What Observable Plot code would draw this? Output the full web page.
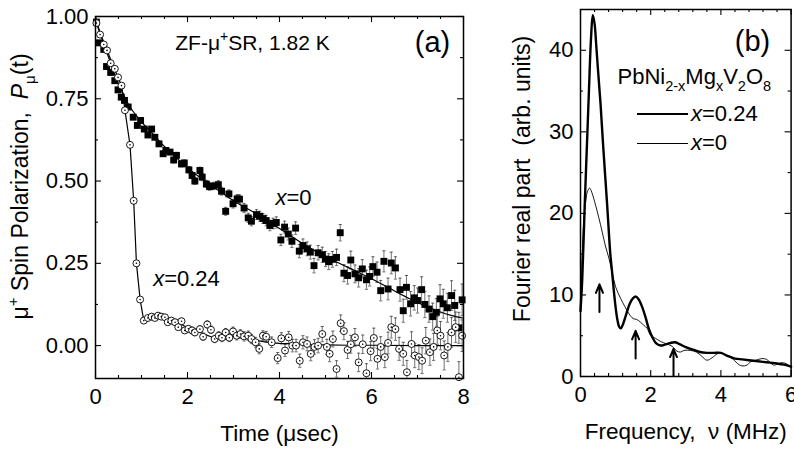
<!DOCTYPE html>
<html><head><meta charset="utf-8">
<script src="https://cdn.jsdelivr.net/npm/d3@7"></script>
<script src="https://cdn.jsdelivr.net/npm/@observablehq/plot@0.6"></script>
<style>
body{margin:0;background:#fff;}
#wrap{position:relative;width:794px;height:449px;display:flex;overflow:hidden;font-family:"Liberation Sans",Arial,sans-serif;}
#wrap svg{display:block;}
.lrow{position:absolute;left:637px;height:28px;display:flex;align-items:center;font-size:22px;color:#000;}
.sw{display:inline-block;width:51px;margin-right:3px;}
</style></head><body><div id="wrap"></div>
<script>
// ---------- Panel (a): ZF-muSR polarization ----------
const x0Time = [0.02,0.08,0.18,0.24,0.33,0.42,0.49,0.56,0.63,0.71,0.82,0.91,0.98,
 1.06,1.14,1.22,1.29,1.38,1.47,1.53,1.62,1.70,1.76,1.87,1.93,
 2.03,2.10,2.16,2.27,2.32,2.41,2.48,2.56,2.67,2.74,2.83,2.90,2.99,
 3.08,3.13,3.23,3.32,3.39,3.50,3.57,3.64,3.71,3.79,3.86,3.93,
 4.03,4.11,4.19,4.27,4.35,4.43,4.51,4.60,4.67,4.75,4.84,4.93,
 5.00,5.07,5.15,5.24,5.32,5.40,5.48,5.55,5.64,5.72,5.80,5.89,5.96,
 6.03,6.12,6.20,6.27,6.36,6.43,6.52,6.62,6.69,6.76,6.85,6.93,
 7.00,7.09,7.16,7.25,7.33,7.41,7.49,7.56,7.65,7.74,7.81,7.90,7.97];
const x0Pol = [0.983,0.92,0.90,0.848,0.83,0.805,0.777,0.755,0.745,0.725,0.694,0.669,0.684,
 0.658,0.64,0.658,0.633,0.613,0.583,0.593,0.588,0.564,0.578,0.552,0.555,
 0.534,0.517,0.50,0.532,0.512,0.491,0.483,0.485,0.489,0.469,0.408,0.461,0.431,
 0.446,0.445,0.418,0.388,0.378,0.398,0.393,0.386,0.38,0.365,0.371,0.374,
 0.321,0.36,0.339,0.317,0.357,0.287,0.304,0.294,0.284,0.243,0.282,0.276,
 0.263,0.255,0.262,0.268,0.343,0.22,0.213,0.26,0.218,0.206,0.233,0.20,0.21,
 0.24,0.223,0.167,0.256,0.172,0.251,0.236,0.17,0.106,0.177,0.127,0.145,
 0.137,0.17,0.125,0.111,0.088,0.101,0.142,0.127,0.115,0.152,0.122,0.054,0.139];
const x0Err = [0.004,0.004,0.004,0.004,0.005,0.005,0.005,0.005,0.005,0.006,0.006,0.006,0.006,
 0.007,0.007,0.007,0.007,0.008,0.008,0.008,0.008,0.009,0.009,0.009,0.009,
 0.010,0.010,0.010,0.010,0.011,0.011,0.011,0.011,0.012,0.012,0.012,0.012,0.013,
 0.013,0.013,0.014,0.014,0.014,0.015,0.015,0.015,0.016,0.016,0.016,0.017,
 0.017,0.018,0.018,0.019,0.019,0.020,0.020,0.021,0.021,0.022,0.022,0.023,
 0.023,0.024,0.024,0.025,0.025,0.026,0.026,0.027,0.027,0.028,0.028,0.029,0.029,
 0.030,0.031,0.031,0.032,0.033,0.033,0.034,0.035,0.035,0.036,0.037,0.037,
 0.038,0.039,0.040,0.040,0.041,0.042,0.043,0.044,0.044,0.045,0.046,0.047,0.048];

const x24Time = [0.02,0.10,0.18,0.25,0.33,0.42,0.49,0.565,0.64,0.75,0.83,0.89,0.97,1.05,
 1.14,1.22,1.29,1.36,1.43,1.51,1.57,1.65,1.73,1.80,1.87,1.94,
 2.02,2.10,2.16,2.27,2.34,2.43,2.51,2.59,2.68,2.75,2.83,2.91,2.99,
 3.07,3.15,3.23,3.32,3.39,3.48,3.56,3.64,3.71,3.83,3.96,
 4.04,4.12,4.20,4.28,4.36,4.44,4.51,4.60,4.68,4.76,4.84,4.93,
 5.03,5.09,5.16,5.24,5.33,5.40,5.48,5.55,5.64,5.72,5.81,5.89,5.98,
 6.05,6.13,6.20,6.29,6.36,6.43,6.52,6.60,6.69,6.77,6.87,6.94,
 7.03,7.10,7.18,7.27,7.35,7.43,7.50,7.58,7.66,7.74,7.83,7.90,7.97];
const x24Pol = [0.98,0.945,0.915,0.897,0.858,0.841,0.815,0.79,0.715,0.61,0.44,0.25,0.14,0.076,
 0.084,0.088,0.084,0.091,0.088,0.086,0.071,0.076,0.071,0.056,0.074,0.046,
 0.051,0.046,0.04,0.05,0.027,0.064,0.048,0.02,0.03,0.024,0.04,0.024,0.043,
 0.03,0.035,0.028,0.03,0.02,0.01,-0.01,0.03,0.027,0.01,-0.038,
 0.022,-0.015,0.025,0.0,0.0,-0.046,0.01,0.005,-0.025,-0.004,0.0,0.035,
 -0.004,-0.025,0.02,-0.071,0.068,0.044,-0.013,0.004,0.025,-0.051,0.004,-0.084,-0.017,
 0.023,-0.04,-0.004,-0.035,0.008,0.056,0.05,-0.01,-0.025,-0.081,0.005,-0.03,
 -0.035,-0.046,0.015,-0.02,-0.004,0.046,0.03,-0.03,-0.004,0.04,0.056,-0.096,0.03];
const x24Err = [0.004,0.004,0.004,0.004,0.005,0.005,0.005,0.005,0.005,0.006,0.006,0.006,0.006,0.006,
 0.007,0.007,0.007,0.007,0.008,0.008,0.008,0.008,0.009,0.009,0.009,0.009,
 0.010,0.010,0.010,0.010,0.011,0.011,0.011,0.011,0.012,0.012,0.012,0.012,0.013,
 0.013,0.013,0.014,0.014,0.014,0.015,0.015,0.015,0.016,0.016,0.017,
 0.017,0.018,0.018,0.019,0.019,0.020,0.020,0.021,0.021,0.022,0.022,0.023,
 0.023,0.024,0.024,0.025,0.025,0.026,0.026,0.027,0.027,0.028,0.028,0.029,0.029,
 0.030,0.031,0.031,0.032,0.033,0.033,0.034,0.035,0.035,0.036,0.037,0.037,
 0.038,0.039,0.040,0.040,0.041,0.042,0.043,0.044,0.044,0.045,0.046,0.047,0.048];

const fit0Time = [0,0.1,0.2,0.3,0.4,0.5,0.6,0.75,1,1.25,1.5,1.75,2,2.25,2.5,2.75,3,3.25,3.5,3.75,4,4.25,4.5,4.75,5,5.25,5.5,5.75,6,6.25,6.5,6.75,7,7.25,7.5,7.75,8];
const fit0Pol = [1.0,0.95,0.91,0.87,0.83,0.795,0.765,0.725,0.68,0.643,0.605,0.572,0.54,0.513,0.488,0.464,0.44,0.42,0.4,0.378,0.356,0.333,0.31,0.29,0.27,0.253,0.237,0.22,0.203,0.185,0.166,0.148,0.131,0.116,0.102,0.091,0.083];
const fit24Time = [0,0.1,0.2,0.3,0.4,0.5,0.57,0.64,0.75,0.83,0.89,0.97,1.05,1.12,1.2,1.3,1.4,1.5,1.6,1.75,1.9,2.0,2.2,2.4,2.6,2.75,2.9,3.05,3.2,3.35,3.5,3.65,3.8,4.0,4.3,4.6,5,5.5,6,7,8];
const fit24Pol = [0.985,0.95,0.915,0.88,0.845,0.81,0.79,0.715,0.61,0.44,0.25,0.14,0.076,0.082,0.088,0.095,0.094,0.088,0.081,0.072,0.062,0.055,0.045,0.033,0.022,0.018,0.022,0.026,0.026,0.022,0.016,0.012,0.009,0.007,0.005,0.003,0.002,0.001,0.001,0.0,0.0];

const xTicksA = [0,2,4,6,8];
const yTicksA = [0,0.25,0.5,0.75,1.0];

// ---------- Panel (b): Fourier transform ----------
const thickNu = [0,0.05,0.12,0.18,0.24,0.3,0.35,0.4,0.45,0.5,0.57,0.65,0.76,0.85,0.9,0.95,1.0,1.05,1.1,1.15,1.2,1.3,1.4,1.5,1.58,1.65,1.75,1.85,1.95,2.05,2.15,2.28,2.4,2.55,2.7,2.85,3.0,3.2,3.4,3.6,3.8,4.0,4.2,4.4,4.6,4.8,5.0,5.2,5.4,5.6,5.8,6.0];
const thickAmp = [8,12,21,28,35,41.5,44.3,43.3,40.5,37.5,33.5,28,21,15,12.8,10.5,8.5,7.0,6.1,5.9,6.3,7.6,8.9,9.6,9.8,9.5,8.6,7.3,5.8,4.8,4.1,3.8,3.9,4.1,4.2,3.9,3.6,3.3,3.0,2.9,2.9,2.9,2.5,2.2,2.1,2.0,1.9,1.8,1.7,1.6,1.45,1.2];
const thinNu = [0,0.05,0.1,0.15,0.2,0.26,0.32,0.43,0.52,0.62,0.71,0.81,0.9,1.0,1.14,1.26,1.38,1.5,1.6,1.7,1.8,1.9,2.0,2.13,2.28,2.45,2.61,2.75,2.85,2.95,3.13,3.3,3.45,3.6,3.75,3.9,4.0,4.17,4.35,4.5,4.6,4.75,4.84,5.0,5.17,5.3,5.5,5.6,5.75,5.89,6.0];
const thinAmp = [8.5,15,19.5,21.5,22.7,23.1,22.6,21,19.5,17.7,16,14.5,12.8,11,9.6,8.6,7.7,7.1,7.0,6.7,6.3,5.9,5.0,4.7,4.3,4.0,3.7,3.1,3.0,3.2,3.2,3.0,2.5,2.0,2.3,2.8,2.9,2.6,2.1,1.5,1.3,1.4,1.8,2.0,2.2,2.1,1.4,1.5,1.7,1.5,1.1];
const arrowNu = [0.54,1.57,2.65];
const arrowFrom = [7.9,2.2,0.1];
const arrowTo = [11.3,5.6,3.4];
const xTicksB = [0,2,4,6];
const yTicksB = [0,10,20,30,40];

// ---------- build tables ----------
const sq = x0Time.map((t,i)=>({t, p:x0Pol[i], e:x0Err[i]}));
const ci = x24Time.map((t,i)=>({t, p:x24Pol[i], e:x24Err[i]}));
const fit0 = fit0Time.map((t,i)=>({t, p:fit0Pol[i]}));
const fit24 = fit24Time.map((t,i)=>({t, p:fit24Pol[i]}));
const thick = thickNu.map((v,i)=>({v, f:thickAmp[i]}));
const thin = thinNu.map((v,i)=>({v, f:thinAmp[i]}));
const arrows = arrowNu.map((v,i)=>({v, a:arrowFrom[i], b:arrowTo[i]}));

const FONT = '"Liberation Sans", Arial, Helvetica, sans-serif';
const H = 449;
const TICK_FS = 22, TITLE_FS = 22.5, YLAB_FS = 23;

function frameTicks(xMaj, xMin, yMaj, yMin, iw, ih) {
  const L = 6, l = 3, sw = 1.1;
  return [
    Plot.tickX(xMaj, {x: d=>d, insetTop: ih-L, strokeWidth: sw}),
    Plot.tickX(xMaj, {x: d=>d, insetBottom: ih-L, strokeWidth: sw}),
    Plot.tickX(xMin, {x: d=>d, insetTop: ih-l, strokeWidth: sw}),
    Plot.tickX(xMin, {x: d=>d, insetBottom: ih-l, strokeWidth: sw}),
    Plot.tickY(yMaj, {y: d=>d, insetRight: iw-L, strokeWidth: sw}),
    Plot.tickY(yMaj, {y: d=>d, insetLeft: iw-L, strokeWidth: sw}),
    Plot.tickY(yMin, {y: d=>d, insetRight: iw-l, strokeWidth: sw}),
    Plot.tickY(yMin, {y: d=>d, insetLeft: iw-l, strokeWidth: sw})
  ];
}
const C = {textAnchor:"middle", lineAnchor:"middle"};

// Panel A
const A = {w:500, ml:95, mr:37, mt:16, mb:71};
const iwA = A.w-A.ml-A.mr, ihA = H-A.mt-A.mb;
const xMinA = d3.range(0.5, 8, 0.5).filter(v=>v%2!==0);
const yMinA = [0.125,0.375,0.625,0.875];
const cap = 0.035;
const plotA = Plot.plot({
  width: A.w, height: H, marginLeft: A.ml, marginRight: A.mr, marginTop: A.mt, marginBottom: A.mb,
  style: {fontFamily: FONT, fontSize: "21px", color: "#000", background: "#fff", overflow: "visible"},
  x: {domain: [0, 8]}, y: {domain: [-0.1, 1.0]},
  marks: [
    Plot.ruleX(sq, {x:"t", y1: d=>d.p-d.e, y2: d=>d.p+d.e, stroke:"#333", strokeWidth:0.7, clip:true}),
    Plot.link(sq, {x1: d=>d.t-cap, x2: d=>d.t+cap, y1: d=>d.p+d.e, y2: d=>d.p+d.e, stroke:"#333", strokeWidth:0.7, clip:true}),
    Plot.link(sq, {x1: d=>d.t-cap, x2: d=>d.t+cap, y1: d=>d.p-d.e, y2: d=>d.p-d.e, stroke:"#333", strokeWidth:0.7, clip:true}),
    Plot.ruleX(ci, {x:"t", y1: d=>d.p-d.e, y2: d=>d.p+d.e, stroke:"#333", strokeWidth:0.7, clip:true}),
    Plot.link(ci, {x1: d=>d.t-cap, x2: d=>d.t+cap, y1: d=>d.p+d.e, y2: d=>d.p+d.e, stroke:"#333", strokeWidth:0.7, clip:true}),
    Plot.link(ci, {x1: d=>d.t-cap, x2: d=>d.t+cap, y1: d=>d.p-d.e, y2: d=>d.p-d.e, stroke:"#333", strokeWidth:0.7, clip:true}),
    Plot.line(fit0, {x:"t", y:"p", stroke:"#000", strokeWidth:1.2, curve:"catmull-rom"}),
    Plot.line(fit24, {x:"t", y:"p", stroke:"#000", strokeWidth:1.2}),
    Plot.dot(sq, {x:"t", y:"p", symbol:"square", r:3.9, fill:"#000", stroke:"none"}),
    Plot.dot(ci, {x:"t", y:"p", r:3.5, fill:"#fff", stroke:"#000", strokeWidth:0.9}),
    Plot.dot(ci, {x:"t", y:"p", r:0.8, fill:"#000", stroke:"none"}),
    Plot.frame({stroke:"#000", strokeWidth:1.5}),
    ...frameTicks(xTicksA, xMinA, yTicksA, yMinA, iwA, ihA),
    Plot.axisX({ticks: xTicksA, tickSize: 0, tickPadding: 10, label: null, fontSize: TICK_FS, tickFormat: d3.format("d")}),
    Plot.axisY({ticks: yTicksA, tickSize: 0, tickPadding: 7, label: null, fontSize: TICK_FS, tickFormat: d3.format(".2f")}),
    Plot.text(["Time (μsec)"], {frameAnchor:"bottom", dy:55, fontSize:TITLE_FS, ...C}),
    Plot.text(["YLABEL_A"], {frameAnchor:"left", rotate:-90, dx:-75, dy:-11, fontSize:YLAB_FS, ...C}),
    Plot.text(["TITLE_A"], {frameAnchor:"top-left", dx:157, dy:27, fontSize:21, ...C}),
    Plot.text(["(a)"], {frameAnchor:"top-left", dx:337, dy:26, fontSize:29, ...C}),
    Plot.text(["LBL_X0"], {frameAnchor:"top-left", dx:198, dy:181, fontSize:22, ...C}),
    Plot.text(["LBL_X24"], {frameAnchor:"top-left", dx:91, dy:262, fontSize:22, ...C})
  ]
});

// Panel B
const B = {w:294, ml:80, mr:3.4, mt:9, mb:73};
const iwB = B.w-B.ml-B.mr, ihB = H-B.mt-B.mb;
const xMinB = [0.4,0.8,1.2,1.6,2.4,2.8,3.2,3.6,4.4,4.8,5.2,5.6];
const yMinB = [5,15,25,35];
const plotB = Plot.plot({
  width: B.w, height: H, marginLeft: B.ml, marginRight: B.mr, marginTop: B.mt, marginBottom: B.mb,
  style: {fontFamily: FONT, fontSize: "21px", color: "#000", background: "#fff", overflow: "visible"},
  x: {domain: [0, 6]}, y: {domain: [0, 45]},
  marks: [
    Plot.line(thin, {x:"v", y:"f", stroke:"#000", strokeWidth:0.9, curve:"catmull-rom"}),
    Plot.line(thick, {x:"v", y:"f", stroke:"#000", strokeWidth:2.4, curve:"catmull-rom"}),
    Plot.arrow(arrows, {x1:"v", x2:"v", y1:"a", y2:"b", stroke:"#000", strokeWidth:2, headLength:8, headAngle:45}),
    Plot.frame({stroke:"#000", strokeWidth:1.5}),
    ...frameTicks(xTicksB, xMinB, yTicksB, yMinB, iwB, ihB),
    Plot.axisX({ticks: xTicksB, tickSize: 0, tickPadding: 10, label: null, fontSize: TICK_FS, tickFormat: d3.format("d")}),
    Plot.axisY({ticks: yTicksB, tickSize: 0, tickPadding: 7, label: null, fontSize: TICK_FS, tickFormat: d3.format("d")}),
    Plot.text(["Frequency,\u00a0\u00a0ν (MHz)"], {frameAnchor:"bottom", dy:55, fontSize:TITLE_FS, ...C}),
    Plot.text(["Fourier real part\u00a0\u00a0(arb. units)"], {frameAnchor:"left", rotate:-90, dx:-58, dy:-14, fontSize:YLAB_FS, ...C}),
    Plot.text(["(b)"], {frameAnchor:"top-left", dx:172, dy:32, fontSize:29, ...C}),
    Plot.text(["COMPOUND"], {frameAnchor:"top-left", dx:37, dy:67, fontSize:22, textAnchor:"start", lineAnchor:"middle"})
  ]
});

const wrap = document.getElementById("wrap");
wrap.appendChild(plotA);
wrap.appendChild(plotB);

function richify(svg, key, parts, fs) {
  d3.select(svg).selectAll("text").filter(function(){ return this.textContent === key; }).each(function(){
    const el = d3.select(this);
    el.text(null);
    let shift = 0;
    for (const p of parts) {
      const target = p.sup ? -0.42*fs : p.sub ? 0.32*fs : 0;
      const ts = el.append("tspan").text(p.t);
      if (target !== shift) ts.attr("dy", (target - shift).toFixed(2));
      if (p.sup || p.sub) ts.attr("font-size", (0.66*fs).toFixed(1));
      if (p.i) ts.attr("font-style", "italic");
      shift = target;
    }
  });
}
richify(plotA, "YLABEL_A", [{t:"μ"},{t:"+",sup:1},{t:" Spin Polarization,\u00a0\u00a0"},{t:"P",i:1},{t:"μ",sub:1},{t:"(t)"}], YLAB_FS);
richify(plotA, "TITLE_A", [{t:"ZF-μ"},{t:"+",sup:1},{t:"SR, 1.82 K"}], 21);
richify(plotA, "LBL_X0", [{t:"x",i:1},{t:"=0"}], 22);
richify(plotA, "LBL_X24", [{t:"x",i:1},{t:"=0.24"}], 22);
richify(plotB, "COMPOUND", [{t:"PbNi"},{t:"2-x",sub:1},{t:"Mg"},{t:"x",sub:1},{t:"V"},{t:"2",sub:1},{t:"O"},{t:"8",sub:1}], 22);

// legend for panel (b)
const legendItems = [{label:"0.24", w:2.6}, {label:"0", w:1}];
legendItems.forEach((it, i) => {
  const row = document.createElement("div");
  row.className = "lrow";
  row.style.top = (100 + i*29) + "px";
  row.innerHTML = `<span class="sw" style="border-top:${it.w}px solid #000"></span><span><i>x</i>=${it.label}</span>`;
  wrap.appendChild(row);
});
</script></body></html>
